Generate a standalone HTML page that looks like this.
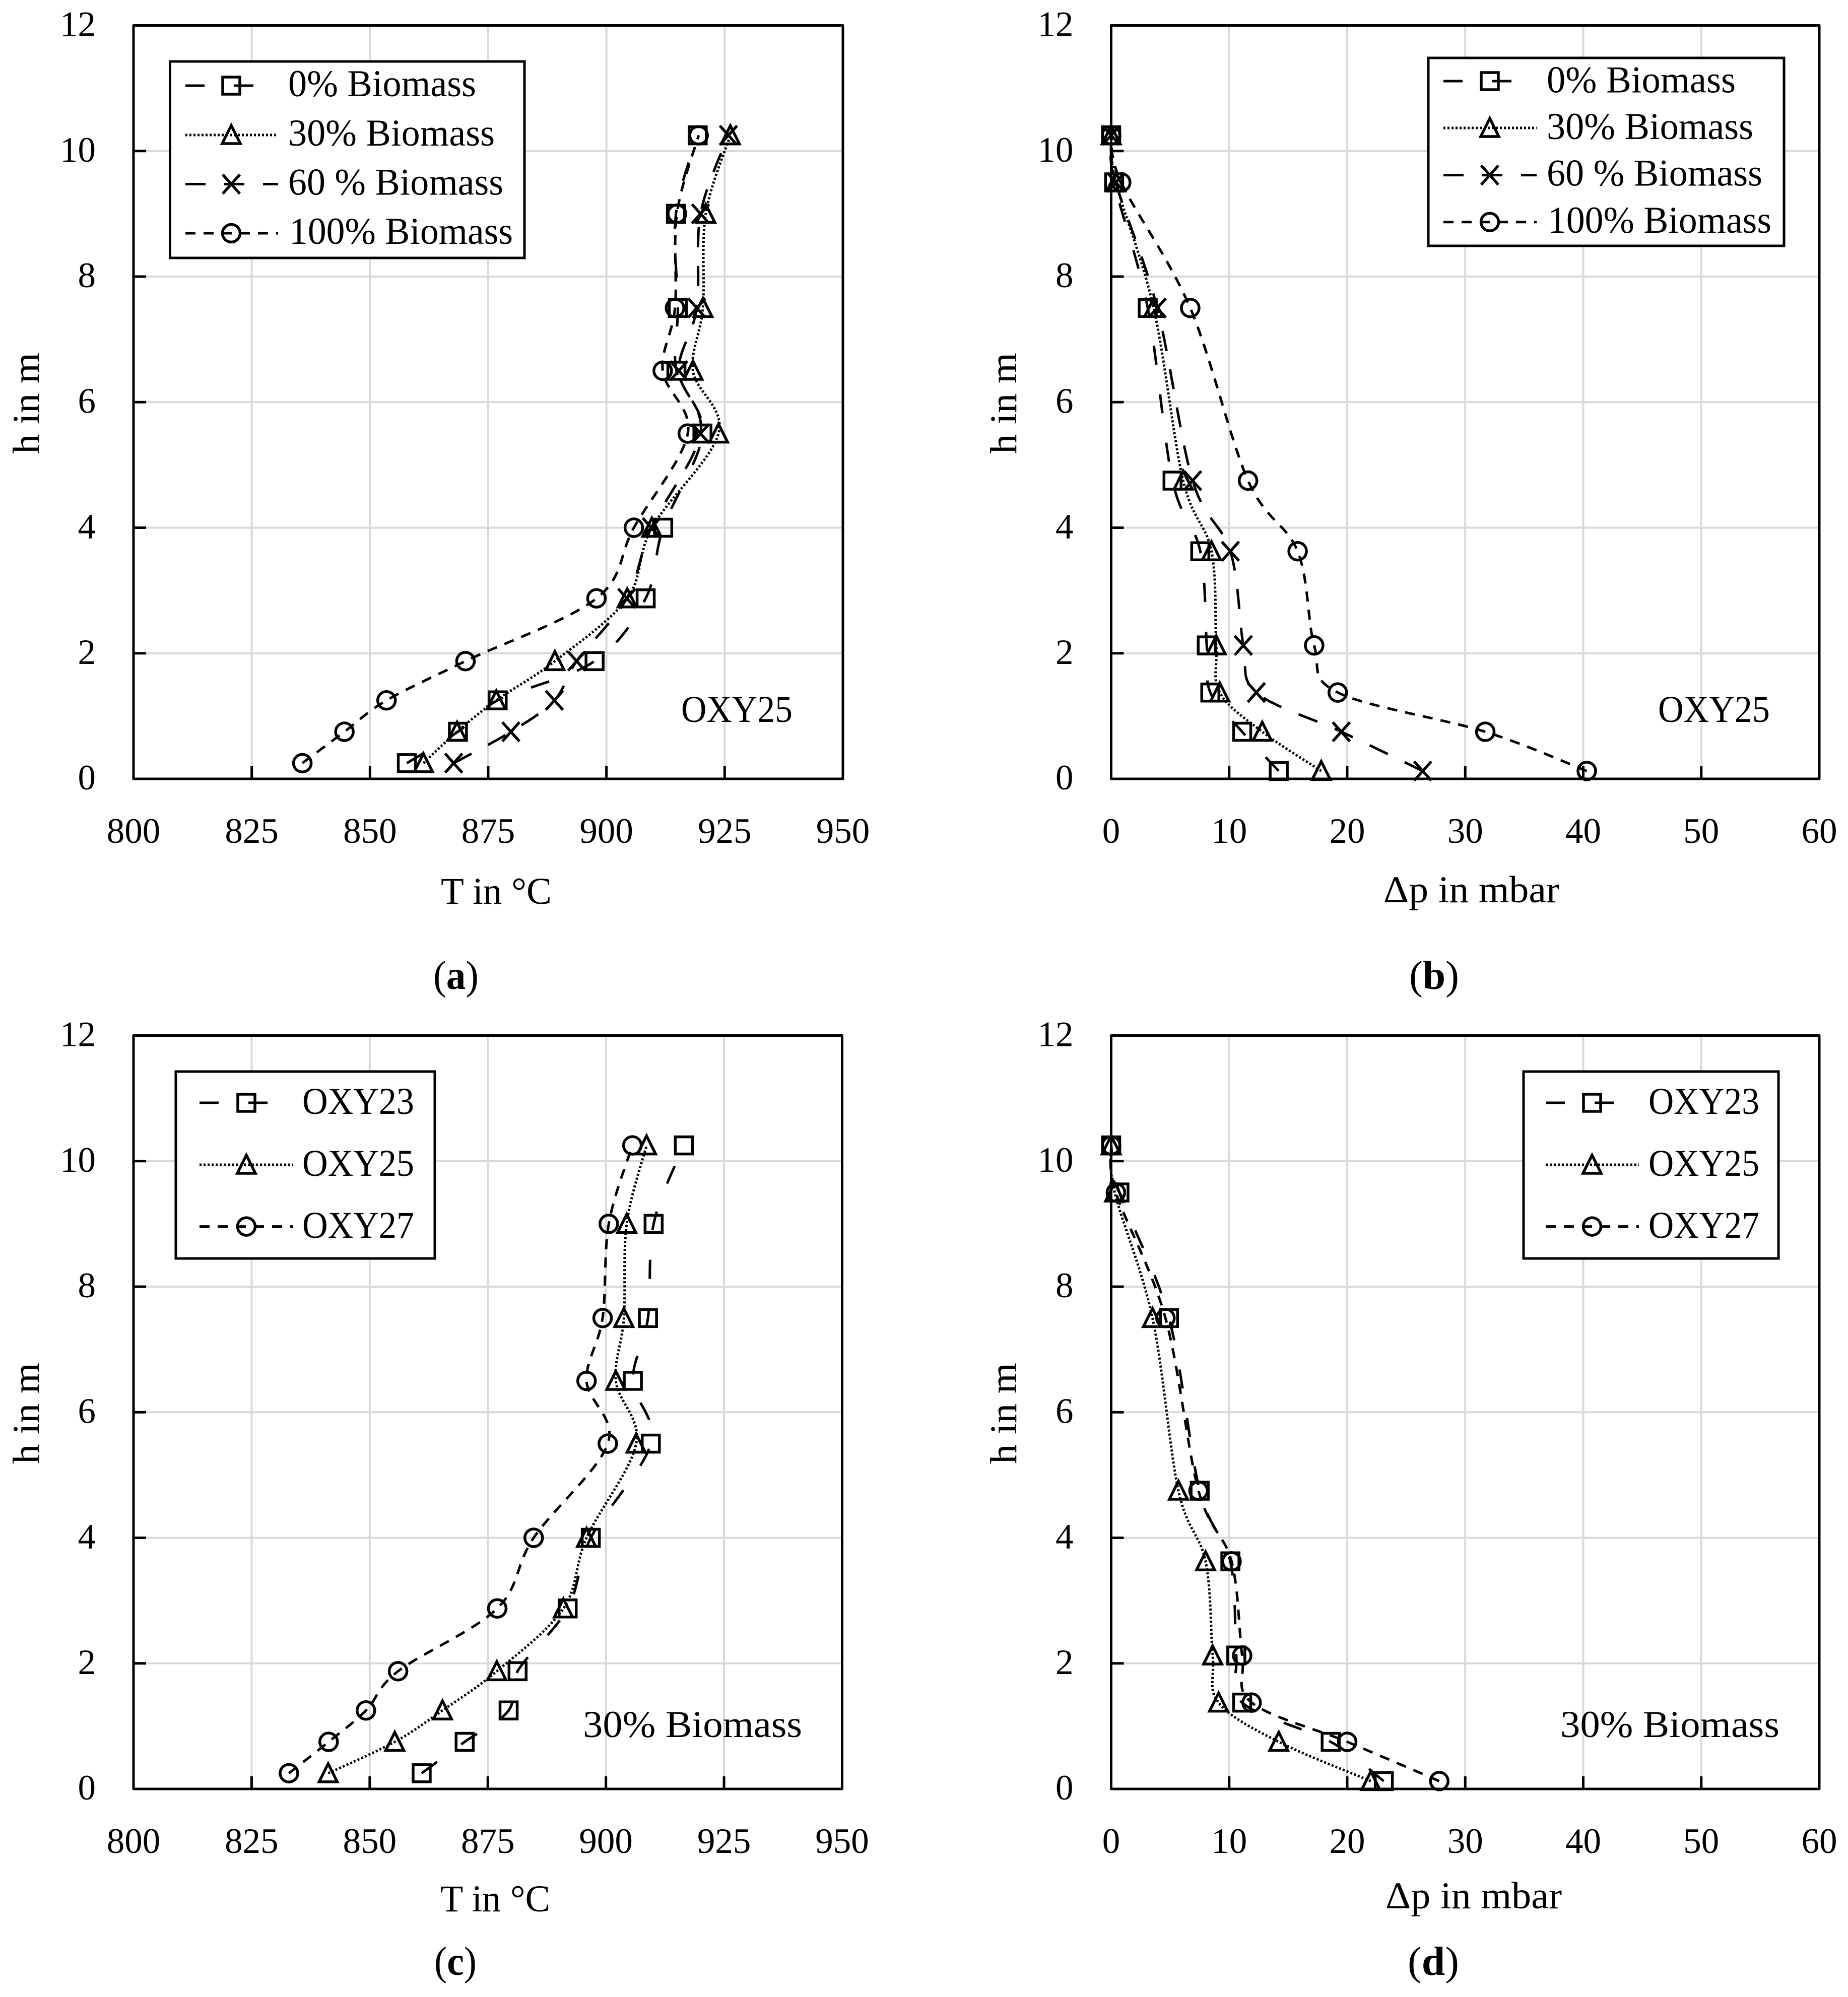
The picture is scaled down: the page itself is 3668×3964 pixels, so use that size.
<!DOCTYPE html>
<html lang="en">
<head>
<meta charset="utf-8">
<title>Temperature and pressure profiles over height</title>
<style>
html,body{margin:0;padding:0;background:#fff;}
svg{display:block;}
text{font-family:"Liberation Serif",serif;font-size:75px;fill:#000;}
.tick-label{font-size:71px;}
.caption{font-size:80px;}
.mk{fill:none;stroke:#000;stroke-width:5.5;}
.ln{fill:none;stroke:#000;stroke-width:5;}
.s-long{stroke-dasharray:38 59;}
.s-dot{stroke-dasharray:4 4;}
.s-mid{stroke-dasharray:40 37;}
.s-short{stroke-dasharray:20 16;}
.legend-box{fill:#fff;stroke:#000;stroke-width:5;}
</style>
</head>
<body>
<svg id="figure" xmlns="http://www.w3.org/2000/svg" width="3668" height="3964" viewBox="0 0 3668 3964">
<rect width="3668" height="3964" fill="#fff"/>

<!-- Panel a -->
<g id="plot-a"></g>
<g>
  <rect class="legend-box" x="337.5" y="122" width="703.5" height="390"/>
  <g>
    <line class="ln s-long" x1="368" x2="552" y1="170" y2="170"/><rect class="mk" x="442" y="153" width="34" height="34"/>
    <text x="572" y="191" textLength="373" lengthAdjust="spacingAndGlyphs">0% Biomass</text>
  </g>
  <g>
    <line class="ln s-dot" x1="368" x2="552" y1="268" y2="268"/><polygon class="mk" points="459,249 477,285 441,285"/>
    <text x="572" y="289" textLength="410" lengthAdjust="spacingAndGlyphs">30% Biomass</text>
  </g>
  <g>
    <line class="ln s-mid" x1="368" x2="552" y1="365.5" y2="365.5"/><path class="mk" d="M442 346.5L476 384.5M476 346.5L442 384.5"/>
    <text x="572" y="386.5" textLength="427" lengthAdjust="spacingAndGlyphs">60 % Biomass</text>
  </g>
  <g>
    <line class="ln s-short" x1="368" x2="552" y1="463" y2="463"/><circle class="mk" cx="459" cy="463" r="17.5"/>
    <text x="574" y="484" textLength="444" lengthAdjust="spacingAndGlyphs">100% Biomass</text>
  </g>
</g>
<text x="1352" y="1433" textLength="221" lengthAdjust="spacingAndGlyphs">OXY25</text>
<text x="875" y="1794" textLength="220" lengthAdjust="spacingAndGlyphs">T in °C</text>
<text transform="translate(77,901) rotate(-90)" x="0" y="0" textLength="201" lengthAdjust="spacingAndGlyphs">h in m</text>
<text class="caption" x="860" y="1963" textLength="90" lengthAdjust="spacingAndGlyphs">(<tspan font-weight="bold">a</tspan>)</text>

<!-- Panel b -->
<g id="plot-b"></g>
<g>
  <rect class="legend-box" x="2835" y="115" width="706" height="373"/>
  <g>
    <line class="ln s-long" x1="2865" x2="3050" y1="161" y2="161"/><rect class="mk" x="2940" y="144" width="34" height="34"/>
    <text x="3070" y="183.7" textLength="375" lengthAdjust="spacingAndGlyphs">0% Biomass</text>
  </g>
  <g>
    <line class="ln s-dot" x1="2865" x2="3050" y1="254" y2="254"/><polygon class="mk" points="2957,235 2975,271 2939,271"/>
    <text x="3070" y="276" textLength="410" lengthAdjust="spacingAndGlyphs">30% Biomass</text>
  </g>
  <g>
    <line class="ln s-mid" x1="2865" x2="3050" y1="347.6" y2="347.6"/><path class="mk" d="M2940 328.6L2974 366.6M2974 328.6L2940 366.6"/>
    <text x="3070" y="368.6" textLength="428" lengthAdjust="spacingAndGlyphs">60 % Biomass</text>
  </g>
  <g>
    <line class="ln s-short" x1="2865" x2="3050" y1="440.7" y2="440.7"/><circle class="mk" cx="2957" cy="440.7" r="17.5"/>
    <text x="3072" y="462" textLength="444" lengthAdjust="spacingAndGlyphs">100% Biomass</text>
  </g>
</g>
<text x="3291" y="1433" textLength="222" lengthAdjust="spacingAndGlyphs">OXY25</text>
<text x="2746" y="1791" textLength="349" lengthAdjust="spacingAndGlyphs">Δp in mbar</text>
<text transform="translate(2017,901) rotate(-90)" x="0" y="0" textLength="201" lengthAdjust="spacingAndGlyphs">h in m</text>
<text class="caption" x="2797" y="1963" textLength="99" lengthAdjust="spacingAndGlyphs">(<tspan font-weight="bold">b</tspan>)</text>

<!-- Panel c -->
<g id="plot-c"></g>
<g>
  <rect class="legend-box" x="349" y="2127" width="514" height="371"/>
  <g>
    <line class="ln s-long" x1="396" x2="582" y1="2189" y2="2189"/><rect class="mk" x="472" y="2172" width="34" height="34"/>
    <text x="600" y="2211" textLength="222" lengthAdjust="spacingAndGlyphs">OXY23</text>
  </g>
  <g>
    <line class="ln s-dot" x1="396" x2="582" y1="2312" y2="2312"/><polygon class="mk" points="489,2293 507,2329 471,2329"/>
    <text x="600" y="2334" textLength="222" lengthAdjust="spacingAndGlyphs">OXY25</text>
  </g>
  <g>
    <line class="ln s-short" x1="396" x2="582" y1="2434.6" y2="2434.6"/><circle class="mk" cx="489" cy="2434.6" r="17.5"/>
    <text x="600" y="2457" textLength="222" lengthAdjust="spacingAndGlyphs">OXY27</text>
  </g>
</g>
<text x="1157" y="3448" textLength="435" lengthAdjust="spacingAndGlyphs">30% Biomass</text>
<text x="874" y="3794" textLength="218" lengthAdjust="spacingAndGlyphs">T in °C</text>
<text transform="translate(77,2906) rotate(-90)" x="0" y="0" textLength="201" lengthAdjust="spacingAndGlyphs">h in m</text>
<text class="caption" x="862" y="3920" textLength="84" lengthAdjust="spacingAndGlyphs">(<tspan font-weight="bold">c</tspan>)</text>

<!-- Panel d -->
<g id="plot-d"></g>
<g>
  <rect class="legend-box" x="3024" y="2127" width="506" height="371"/>
  <g>
    <line class="ln s-long" x1="3068" x2="3253" y1="2189" y2="2189"/><rect class="mk" x="3143" y="2172" width="34" height="34"/>
    <text x="3272" y="2211" textLength="220" lengthAdjust="spacingAndGlyphs">OXY23</text>
  </g>
  <g>
    <line class="ln s-dot" x1="3068" x2="3253" y1="2312" y2="2312"/><polygon class="mk" points="3160,2293 3178,2329 3142,2329"/>
    <text x="3272" y="2334" textLength="220" lengthAdjust="spacingAndGlyphs">OXY25</text>
  </g>
  <g>
    <line class="ln s-short" x1="3068" x2="3253" y1="2434.6" y2="2434.6"/><circle class="mk" cx="3160" cy="2434.6" r="17.5"/>
    <text x="3272" y="2457" textLength="220" lengthAdjust="spacingAndGlyphs">OXY27</text>
  </g>
</g>
<text x="3097" y="3448" textLength="435" lengthAdjust="spacingAndGlyphs">30% Biomass</text>
<text x="2750" y="3788" textLength="350" lengthAdjust="spacingAndGlyphs">Δp in mbar</text>
<text transform="translate(2017,2906) rotate(-90)" x="0" y="0" textLength="201" lengthAdjust="spacingAndGlyphs">h in m</text>
<text class="caption" x="2794" y="3920" textLength="102" lengthAdjust="spacingAndGlyphs">(<tspan font-weight="bold">d</tspan>)</text>
</svg>

<script>
// ---- chart data (bottom of reactor to top) ----
const hTicks = [0, 2, 4, 6, 8, 10, 12];
const tempTicks = [800, 825, 850, 875, 900, 925, 950];
const dpTicks = [0, 10, 20, 30, 40, 50, 60];

const heightsA = [0.25, 0.75, 1.25, 1.875, 2.875, 4, 5.5, 6.5, 7.5, 9, 10.25];
const tempA0 = [857.8, 868.6, 877, 897.5, 908.3, 912, 920.3, 914.8, 915.1, 914.7, 919.3];
const tempA30 = [861.3, 868.4, 876.7, 889.1, 904.4, 909.6, 923.7, 918.3, 920.4, 921, 926.2];
const tempA60 = [867.7, 879.8, 889, 893.7, 904.3, 909.5, 919.9, 915.3, 919.1, 919.9, 925.8];
const tempA100 = [835.7, 844.6, 853.5, 870.2, 897.9, 905.8, 917.2, 911.9, 914.5, 914.9, 919.5];

const heightsB = [0.125, 0.75, 1.375, 2.125, 3.625, 4.75, 7.5, 9.5, 10.25];
const dpB0 = [14.2, 11.1, 8.4, 8.1, 7.55, 5.2, 3.1, 0.25, 0];
const dpB30 = [17.8, 12.8, 9.2, 8.9, 8.5, 6.1, 3.6, 0.4, 0];
const dpB60 = [26.4, 19.5, 12.3, 11.2, 10.1, 6.9, 3.9, 0.4, 0];
const dpB100 = [40.3, 31.7, 19.2, 17.2, 15.8, 11.6, 6.7, 0.85, 0];

const heightsC = [0.25, 0.75, 1.25, 1.875, 2.875, 4, 5.5, 6.5, 7.5, 9, 10.25];
const tempC23 = [861, 870.1, 879.4, 881.3, 891.9, 896.8, 909.5, 905.7, 908.9, 910.1, 916.5];
const tempC25 = [841.2, 855.3, 865.4, 876.9, 891, 895.9, 906.4, 902.1, 903.8, 904.4, 908.6];
const tempC27 = [832.9, 841.3, 849.2, 856, 877, 884.7, 900.4, 895.9, 899.3, 900.6, 905.6];

const heightsD = [0.125, 0.75, 1.375, 2.125, 3.625, 4.75, 7.5, 9.5, 10.25];
const dpD23 = [23.1, 18.6, 11.1, 10.6, 10.1, 7.5, 4.9, 0.7, 0];
const dpD25 = [22, 14.2, 9.1, 8.6, 8, 5.7, 3.5, 0.3, 0];
const dpD27 = [27.8, 20, 11.9, 11.1, 10.2, 7.4, 4.6, 0.4, 0];

// ---- drawing ----
const NS = 'http://www.w3.org/2000/svg';
function make(tag, parent, attrs) {
  const node = document.createElementNS(NS, tag);
  for (const k in attrs) node.setAttribute(k, attrs[k]);
  parent.appendChild(node);
  return node;
}
function smoothPath(pts) {
  let d = 'M' + pts[0][0].toFixed(1) + ' ' + pts[0][1].toFixed(1);
  for (let i = 0; i < pts.length - 1; i++) {
    const p0 = pts[Math.max(i - 1, 0)], p1 = pts[i], p2 = pts[i + 1], p3 = pts[Math.min(i + 2, pts.length - 1)];
    const c1x = p1[0] + (p2[0] - p0[0]) / 6, c1y = p1[1] + (p2[1] - p0[1]) / 6;
    const c2x = p2[0] - (p3[0] - p1[0]) / 6, c2y = p2[1] - (p3[1] - p1[1]) / 6;
    d += 'C' + c1x.toFixed(1) + ' ' + c1y.toFixed(1) + ' ' + c2x.toFixed(1) + ' ' + c2y.toFixed(1) + ' ' + p2[0].toFixed(1) + ' ' + p2[1].toFixed(1);
  }
  return d;
}
function drawMarker(g, kind, x, y) {
  let m;
  if (kind === 'square') {
    m = make('rect', g, {class: 'mk', x: x - 17, y: y - 17, width: 34, height: 34});
  } else if (kind === 'triangle') {
    m = make('polygon', g, {class: 'mk', points: x + ',' + (y - 19) + ' ' + (x + 18) + ',' + (y + 17) + ' ' + (x - 18) + ',' + (y + 17)});
  } else if (kind === 'cross') {
    m = make('path', g, {class: 'mk', d: 'M' + (x - 17) + ' ' + (y - 19) + 'L' + (x + 17) + ' ' + (y + 19) + 'M' + (x + 17) + ' ' + (y - 19) + 'L' + (x - 17) + ' ' + (y + 19)});
  } else {
    m = make('circle', g, {class: 'mk', cx: x, cy: y, r: 17.5});
  }
  
  
}
function drawPanel(id, box, xTicks, yTicks, heights, series) {
  const g = document.getElementById(id);
  const xMin = xTicks[0], xMax = xTicks[xTicks.length - 1];
  const yMin = yTicks[0], yMax = yTicks[yTicks.length - 1];
  const sx = v => box.left + (v - xMin) / (xMax - xMin) * (box.right - box.left);
  const sy = v => box.bottom - (v - yMin) / (yMax - yMin) * (box.bottom - box.top);

  xTicks.forEach((t, i) => {
    const x = sx(t);
    if (i > 0 && i < xTicks.length - 1) {
      const gl = make('line', g, {x1: x, x2: x, y1: box.top, y2: box.bottom, stroke: '#d9d9d9', 'stroke-width': 4});
      
      
    }
  });
  yTicks.forEach((t, i) => {
    const y = sy(t);
    if (i > 0 && i < yTicks.length - 1) {
      const gl = make('line', g, {x1: box.left, x2: box.right, y1: y, y2: y, stroke: '#d9d9d9', 'stroke-width': 4});
      
      
    }
  });

  xTicks.forEach((t, i) => {
    const x = sx(t);
    if (i > 0 && i < xTicks.length - 1) {
      const tk = make('line', g, {x1: x, x2: x, y1: box.bottom, y2: box.bottom - 25, stroke: '#000', 'stroke-width': 5});
      
      
    }
    const lb = make('text', g, {x: x, y: box.bottom + 127, 'text-anchor': 'middle', class: 'tick-label'});
    lb.textContent = t;
    
    
  });
  yTicks.forEach((t, i) => {
    const y = sy(t);
    if (i > 0 && i < yTicks.length - 1) {
      const tk = make('line', g, {x1: box.left, x2: box.left + 25, y1: y, y2: y, stroke: '#000', 'stroke-width': 5});
      
      
    }
    const lb = make('text', g, {x: box.left - 75, y: y + 21, 'text-anchor': 'end', class: 'tick-label'});
    lb.textContent = t;
    
    
  });

  const frame = make('rect', g, {x: box.left, y: box.top, width: box.right - box.left, height: box.bottom - box.top, fill: 'none', stroke: '#000', 'stroke-width': 5, 'stroke-linejoin': 'round'});
  
  

  series.forEach(s => {
    const sg = make('g', g, {});
    
    
    const pts = s.values.map((v, i) => [sx(v), sy(heights[i])]);
    const line = make('path', sg, {class: 'ln ' + s.dash, d: smoothPath(pts)});
    
    
    pts.forEach(p => drawMarker(sg, s.marker, p[0], p[1]));
  });
}

drawPanel('plot-a', {left: 265, right: 1673, top: 50.5, bottom: 1546}, tempTicks, hTicks, heightsA, [
  {name: '0-biomass', values: tempA0, dash: 's-long', marker: 'square'},
  {name: '30-biomass', values: tempA30, dash: 's-dot', marker: 'triangle'},
  {name: '60-biomass', values: tempA60, dash: 's-mid', marker: 'cross'},
  {name: '100-biomass', values: tempA100, dash: 's-short', marker: 'circle'}
]);
drawPanel('plot-b', {left: 2205.5, right: 3611, top: 50.5, bottom: 1546}, dpTicks, hTicks, heightsB, [
  {name: '0-biomass', values: dpB0, dash: 's-long', marker: 'square'},
  {name: '30-biomass', values: dpB30, dash: 's-dot', marker: 'triangle'},
  {name: '60-biomass', values: dpB60, dash: 's-mid', marker: 'cross'},
  {name: '100-biomass', values: dpB100, dash: 's-short', marker: 'circle'}
]);
drawPanel('plot-c', {left: 265, right: 1671.5, top: 2055.5, bottom: 3551}, tempTicks, hTicks, heightsC, [
  {name: 'oxy23', values: tempC23, dash: 's-long', marker: 'square'},
  {name: 'oxy25', values: tempC25, dash: 's-dot', marker: 'triangle'},
  {name: 'oxy27', values: tempC27, dash: 's-short', marker: 'circle'}
]);
drawPanel('plot-d', {left: 2205.5, right: 3611, top: 2055.5, bottom: 3551}, dpTicks, hTicks, heightsD, [
  {name: 'oxy23', values: dpD23, dash: 's-long', marker: 'square'},
  {name: 'oxy25', values: dpD25, dash: 's-dot', marker: 'triangle'},
  {name: 'oxy27', values: dpD27, dash: 's-short', marker: 'circle'}
]);
</script>
</body>
</html>
